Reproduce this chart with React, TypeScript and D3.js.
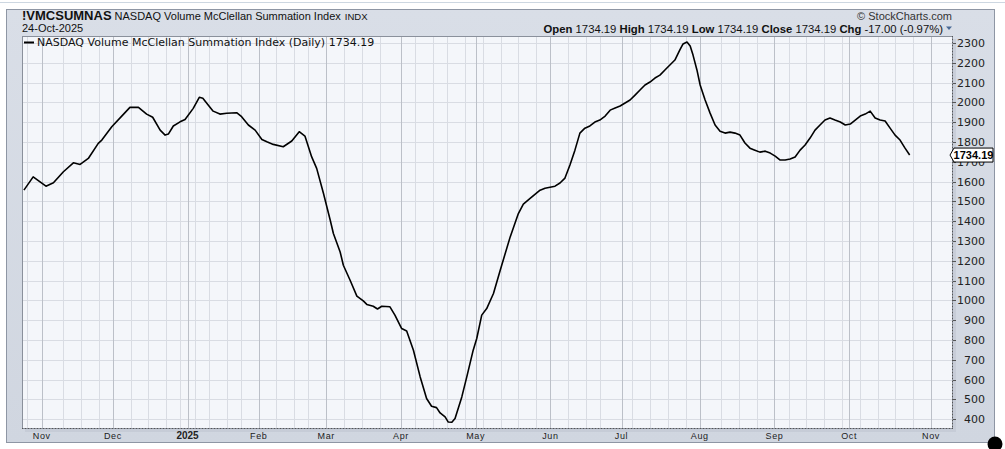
import React from "react";
import * as d3 from "d3";

// trading-day index (0 = 25-Oct-2024) and index value
const days = [0, 2.6, 6.2, 8.3, 11.1, 13.9, 15.8, 18.1, 20.9, 21.9, 24.7, 27.5, 29.8, 32.2, 34.5, 36.2, 38.3, 39.7, 40.6, 42, 43.9, 45.3, 47.6, 49.3, 50.3, 51.8, 53.2, 55.1, 57, 59.8, 61.2, 63.1, 65, 66.9, 68.3, 70.1, 72.9, 75.3, 77.4, 79, 80.9, 82.3, 84.2, 86.1, 87, 88.9, 89.8, 91.7, 93.6, 95.4, 96.4, 98.2, 99.4, 100.6, 102.9, 104.3, 106.2, 107.6, 109.5, 111.4, 113.2, 114.6, 116, 117, 118.4, 119.3, 120.3, 121.2, 123.1, 124.5, 126.3, 127.3, 128.7, 130.1, 132, 133.9, 136.7, 139, 140.4, 142.3, 145.1, 146.5, 149.3, 150.7, 152.1, 153.5, 154.9, 156.3, 157.7, 159.1, 160.5, 161.9, 163.4, 164.8, 166.2, 167.6, 169, 170.4, 171.8, 173.2, 174.6, 176, 177.4, 178.8, 180.2, 181.6, 183, 184.4, 185.3, 186.4, 187.3, 188.1, 189.2, 190.1, 191.5, 192.9, 194.3, 195.7, 197.1, 198.5, 199.9, 201.3, 202.7, 204.1, 205.5, 206.9, 208.4, 209.8, 211.2, 212.6, 214, 215.4, 216.8, 218.2, 219.6, 221, 222.4, 223.8, 225.2, 226.6, 228, 229.5, 230.9, 232.3, 233.7, 235.1, 236.5, 237.9, 239.3, 240.7, 242.1, 243.5, 244.9, 246.3, 247.7, 249];
const values = [1557, 1624, 1577, 1594, 1650, 1695, 1687, 1717, 1793, 1810, 1877, 1931, 1975, 1975, 1941, 1925, 1860, 1835, 1840, 1881, 1902, 1914, 1970, 2026, 2021, 1987, 1956, 1941, 1945, 1948, 1928, 1886, 1860, 1813, 1801, 1788, 1776, 1805, 1852, 1830, 1725, 1667, 1541, 1406, 1338, 1245, 1178, 1102, 1022, 998, 980, 971, 957, 971, 968, 926, 858, 846, 749, 614, 505, 466, 459, 432, 412, 386, 385, 404, 513, 614, 749, 808, 926, 959, 1035, 1153, 1321, 1439, 1486, 1515, 1557, 1567, 1577, 1593, 1618, 1684, 1759, 1845, 1870, 1881, 1901, 1911, 1931, 1961, 1972, 1982, 1997, 2012, 2037, 2063, 2088, 2103, 2123, 2138, 2164, 2189, 2214, 2265, 2295, 2305, 2285, 2239, 2164, 2088, 2012, 1946, 1886, 1855, 1845, 1850, 1845, 1835, 1795, 1769, 1759, 1749, 1754, 1744, 1729, 1709, 1709, 1714, 1724, 1759, 1785, 1820, 1860, 1886, 1911, 1921, 1911, 1901, 1886, 1891, 1911, 1931, 1941, 1956, 1921, 1911, 1906, 1870, 1835, 1810, 1769, 1734.19];

const monthLabels = ["Nov", "Dec", "2025", "Feb", "Mar", "Apr", "May", "Jun", "Jul", "Aug", "Sep", "Oct", "Nov"];
const monthDays = [5, 25, 46, 66, 85, 106, 127, 148, 168, 190, 211, 232, 255];
const weekDays = [1, 11, 16, 21, 30, 35, 40, 44, 48, 52, 57, 61, 71, 76, 80, 90, 95, 100, 110, 115, 119, 124, 129, 134, 139, 144, 153, 158, 162, 171, 176, 181, 186, 196, 201, 206, 215, 220, 225, 230, 235, 240, 245, 250];
const yTicks = [400, 500, 600, 700, 800, 900, 1000, 1100, 1200, 1300, 1400, 1500, 1600, 1700, 1800, 1900, 2000, 2100, 2200, 2300];

const lastValue = 1734.19;
const symbol = "!VMCSUMNAS";
const title = "NASDAQ Volume McClellan Summation Index";
const dateLabel = "24-Oct-2025";
const legendText = "NASDAQ Volume McClellan Summation Index (Daily) 1734.19";

const W = 1005, H = 449;
const PL = 22, PT = 36, PR = 953, PB = 429;

export default function App() {
  const x = d3.scaleLinear().domain([5, 255]).range([41.7, 931]);
  const y = d3.scaleLinear().domain([400, 2300]).range([419.3, 43]);
  const line = d3.line<number>().x((_, i) => x(days[i])).y((v) => y(v)).curve(d3.curveLinear);
  const path = line(values) || "";
  const ly = y(lastValue);
  const sans = "'Liberation Sans', Arial, sans-serif";
  const vera = "'DejaVu Sans', Verdana, sans-serif";
  return (
    <svg width={W} height={H} style={{ position: "absolute", left: 0, top: 0 }} xmlns="http://www.w3.org/2000/svg">
      <defs>
        <linearGradient id="panel" x1="0" y1="0" x2="0" y2="1">
          <stop offset="0" stopColor="#d9dee7" />
          <stop offset="1" stopColor="#d0d6e0" />
        </linearGradient>
        <clipPath id="plotclip">
          <rect x={PL} y={PT} width={PR - PL} height={PB - PT} />
        </clipPath>
      </defs>
      <rect x={0} y={0} width={W} height={H} fill="#ffffff" />
      <line x1={0} x2={W} y1={2.5} y2={2.5} stroke="#cdd7e1" strokeWidth={1} />
      <rect x={6.5} y={9.5} width={988} height={433} fill="url(#panel)" stroke="#8e96a4" strokeWidth={1} />
      {/* shadow */}
      <rect x={PL + 3} y={PT + 3} width={PR - PL} height={PB - PT} fill="#bfc5d0" opacity={0.6} />
      <rect x={PL} y={PT} width={PR - PL} height={PB - PT} fill="#f4f6fa" />
      <g clipPath="url(#plotclip)">
        {yTicks.map((t) => (
          <line key={"h" + t} x1={PL} x2={PR} y1={Math.round(y(t)) + 0.5} y2={Math.round(y(t)) + 0.5} stroke="#d9dce3" strokeWidth={1} />
        ))}
        {weekDays.map((d) => (
          <line key={"w" + d} x1={Math.round(x(d)) + 0.5} x2={Math.round(x(d)) + 0.5} y1={PT} y2={PB} stroke="#d9dce3" strokeWidth={1} />
        ))}
        {monthDays.map((d) => (
          <line key={"m" + d} x1={Math.round(x(d)) + 0.5} x2={Math.round(x(d)) + 0.5} y1={PT} y2={PB} stroke="#bcc0c8" strokeWidth={1} />
        ))}
        <path d={path} fill="none" stroke="#000" strokeWidth={1.6} strokeLinejoin="round" />
      </g>
      <rect x={PL + 0.5} y={PT + 0.5} width={PR - PL - 1} height={PB - PT - 1} fill="none" stroke="#8a909b" strokeWidth={1} />
      <line x1={PL} x2={PR} y1={PB - 0.5} y2={PB - 0.5} stroke="#555" strokeWidth={1} strokeDasharray="1,2" />
      <line x1={PR - 0.5} x2={PR - 0.5} y1={PT} y2={PB} stroke="#555" strokeWidth={1} strokeDasharray="1,2" />
      {/* legend */}
      <line x1={24} x2={34} y1={42.5} y2={42.5} stroke="#000" strokeWidth={2} />
      <text x={37} y={46} fontFamily={vera} fontSize={11} fill="#111">{legendText}</text>
      {/* header */}
      <text x={22} y={20} fontFamily={sans} fill="#111">
        <tspan fontSize={13} fontWeight="bold">{symbol}</tspan>
        <tspan fontSize={11} dx={3}>{title}</tspan>
        <tspan fontSize={9.5} dx={4}>INDX</tspan>
      </text>
      <text x={22} y={32} fontFamily={sans} fontSize={11} fill="#111">{dateLabel}</text>
      <text x={952} y={20} textAnchor="end" fontFamily={sans} fontSize={11} fill="#333">© StockCharts.com</text>
      <text x={943} y={32.5} textAnchor="end" fontFamily={sans} fontSize={11.3} fill="#111">
        <tspan fontWeight="bold">Open</tspan><tspan> 1734.19  </tspan>
        <tspan fontWeight="bold">High</tspan><tspan> 1734.19  </tspan>
        <tspan fontWeight="bold">Low</tspan><tspan> 1734.19  </tspan>
        <tspan fontWeight="bold">Close</tspan><tspan> 1734.19  </tspan>
        <tspan fontWeight="bold">Chg</tspan><tspan> -17.00 (-0.97%)</tspan>
      </text>
      <path d="M946,26.5 L952,26.5 L949,30 Z" fill="#4a6a96" />
      {/* y axis */}
      {yTicks.map((t) => (
        <g key={"yl" + t}>
          <line x1={PR} x2={PR + 3} y1={Math.round(y(t)) + 0.5} y2={Math.round(y(t)) + 0.5} stroke="#555" />
          <text x={985} y={y(t) + 4} textAnchor="end" fontFamily={vera} fontSize={11} fill="#222">{t}</text>
        </g>
      ))}
      {/* last value tag (drawn over the axis label, as in the reference) */}
      <path d={`M950,${ly} L954,${ly - 7} L993,${ly - 7} L993,${ly + 7} L954,${ly + 7} Z`} fill="#fff" stroke="#000" strokeWidth={1} />
      <text x={973.5} y={ly + 4} textAnchor="middle" fontFamily={sans} fontSize={11} fontWeight="bold" fill="#000">{lastValue.toFixed(2)}</text>
      {/* x axis */}
      {monthDays.map((d, i) => (
        <text key={"xl" + i} x={x(d)} y={439} textAnchor="middle" fontFamily={sans} fontSize={monthLabels[i] === "2025" ? 10 : 9}
          fontWeight={monthLabels[i] === "2025" ? "bold" : "normal"} letterSpacing={monthLabels[i] === "2025" ? 0 : 0.6} fill="#222">
          {monthLabels[i]}
        </text>
      ))}
      <circle cx={995} cy={444} r={7.5} fill="#000" />
    </svg>
  );
}
